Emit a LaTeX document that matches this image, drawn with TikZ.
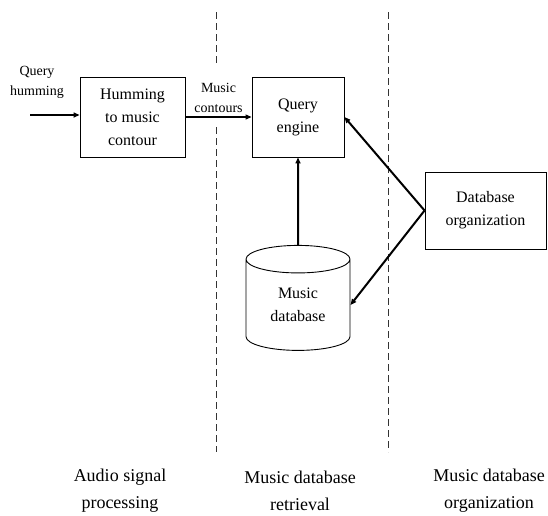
\documentclass[tikz,border=0pt]{standalone}
\usepackage{fontspec}
\setmainfont{Liberation Serif}
\usetikzlibrary{positioning,arrows.meta,shapes.geometric}

\begin{document}
\begin{tikzpicture}[x=1pt,y=-1pt,
  block/.style={draw,line width=0.9pt,inner sep=0pt,align=center,font=\fontsize{16}{23}\selectfont},
  tag/.style={align=center,inner sep=1pt,font=\fontsize{14}{20}\selectfont},
  stage/.style={align=center,inner sep=0pt,font=\fontsize{18}{27}\selectfont},
  divider/.style={gray!40!black,line width=0.9pt,dash pattern=on 7pt off 4pt},
  flow/.style={-{Triangle[length=6pt,width=5pt]}}]
\useasboundingbox (0,0) rectangle (548,515);
% dividers between stages
\draw[divider] (216,12)--(216,63);
\draw[divider] (216,127)--(216,452);
\draw[divider] (388,12)--(388,452);
% blocks
\node[block,minimum width=105pt,minimum height=80pt] (hum) at (132.5,117) {Humming\\to music\\contour};
\node[block,minimum width=92pt,minimum height=80pt] (qry) at (298,117) {Query\\engine};
\node[block,minimum width=121pt,minimum height=77pt] (org) at (485.5,210.5) {Database\\organization};
\node[block,cylinder,shape border rotate=90,aspect=0.5,minimum width=104pt,minimum height=105pt] (dbase) at (298,305) {Music\\database};
% input
\coordinate (qin) at (30,115);
\node[tag] (qlabel) at (37,82) {Query\\humming};
\draw[flow,line width=2.4pt] (qin)--(qin -| hum.west);
\draw[flow,line width=1.2pt] (hum.east)--node[tag,above=3pt] (mc) {Music\\contours} (qry.west);
\draw[flow,line width=2pt] (dbase.north)--(qry.south);
\draw[flow,line width=2pt] (org.west)--(qry.east);
\draw[flow,line width=2pt] (org.west)--(dbase.east);
% stage names
\node[stage] (s1) at (120,491) {Audio signal\\processing};
\node[stage] (s2) at (300,491) {Music database\\retrieval};
\node[stage] (s3) at (489,491) {Music database\\organization};
\end{tikzpicture}
\end{document}
